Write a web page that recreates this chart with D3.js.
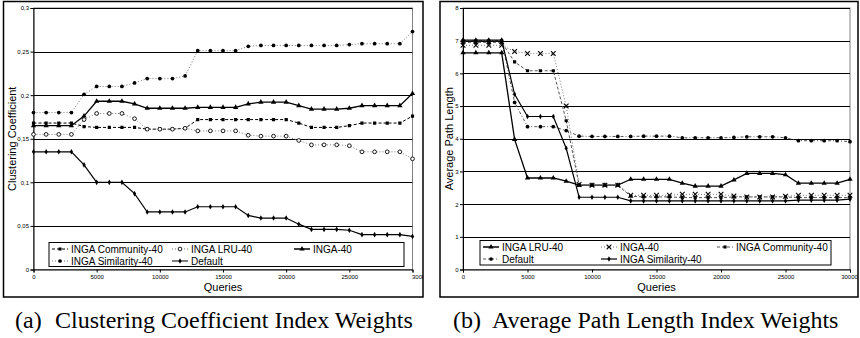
<!DOCTYPE html>
<html><head><meta charset="utf-8">
<script src="https://cdn.jsdelivr.net/npm/d3@7"></script>
<style>body{margin:0;background:#fff}svg{display:block}</style>
</head><body>
<svg id="chart" width="860" height="338"></svg>
<script>
// ---------- data ----------
const queries = [0,1000,2000,3000,4000,5000,6000,7000,8000,9000,10000,11000,12000,13000,14000,15000,
  16000,17000,18000,19000,20000,21000,22000,23000,24000,25000,26000,27000,28000,29000,30000];
const xTickValues = [0,5000,10000,15000,20000,25000,30000];
const xTickLabels = ["0","5000","10000","15000","20000","25000","30000"];

// (a) Clustering coefficient
const ccTickValues = [0,0.05,0.1,0.15,0.2,0.25,0.3];
const ccTickLabels = ["0","0,05","0,1","0,15","0,2","0,25","0,3"];
const ccCommunity = [0.168,0.168,0.168,0.168,0.164,0.163,0.163,0.163,0.163,0.161,0.161,0.161,0.162,0.172,0.172,0.172,
  0.172,0.172,0.172,0.172,0.172,0.168,0.163,0.163,0.163,0.165,0.168,0.168,0.168,0.168,0.176];
const ccLRU = [0.155,0.155,0.155,0.155,0.172,0.179,0.179,0.179,0.173,0.161,0.161,0.161,0.162,0.159,0.159,0.159,
  0.159,0.154,0.153,0.153,0.153,0.148,0.143,0.143,0.143,0.142,0.135,0.135,0.135,0.135,0.127];
const ccInga40 = [0.165,0.165,0.165,0.165,0.176,0.193,0.193,0.193,0.190,0.185,0.185,0.185,0.185,0.186,0.186,0.186,
  0.186,0.190,0.192,0.192,0.192,0.188,0.184,0.184,0.184,0.185,0.188,0.188,0.188,0.188,0.202];
const ccSimilarity = [0.180,0.180,0.180,0.180,0.201,0.210,0.210,0.210,0.214,0.219,0.219,0.219,0.222,0.251,0.251,0.251,
  0.251,0.256,0.257,0.257,0.257,0.257,0.257,0.257,0.257,0.258,0.259,0.259,0.259,0.259,0.273];
const ccDefault = [0.135,0.135,0.135,0.135,0.120,0.100,0.100,0.100,0.087,0.066,0.066,0.066,0.066,0.072,0.072,0.072,
  0.072,0.062,0.059,0.059,0.059,0.052,0.046,0.046,0.046,0.045,0.040,0.040,0.040,0.040,0.038];

// (b) Average path length
const aplTickValues = [0,1,2,3,4,5,6,7,8];
const aplTickLabels = ["0","1","2","3","4","5","6","7","8"];
const aplLRU = [6.63,6.63,6.63,6.63,3.98,2.80,2.80,2.80,2.70,2.58,2.58,2.58,2.58,2.76,2.76,2.76,
  2.76,2.64,2.55,2.55,2.55,2.74,2.94,2.94,2.94,2.90,2.64,2.64,2.64,2.64,2.76];
const aplInga40 = [6.86,6.86,6.86,6.86,6.67,6.61,6.61,6.61,5.00,2.60,2.58,2.58,2.58,2.27,2.27,2.27,
  2.27,2.30,2.30,2.30,2.30,2.25,2.22,2.22,2.22,2.24,2.27,2.27,2.27,2.27,2.27];
const aplCommunity = [6.95,6.95,6.95,6.95,6.35,6.08,6.08,6.08,4.55,2.58,2.58,2.58,2.58,2.24,2.22,2.22,
  2.22,2.20,2.20,2.20,2.20,2.22,2.22,2.22,2.22,2.22,2.20,2.20,2.20,2.20,2.20];
const aplDefault = [7.00,7.00,7.00,7.00,5.11,4.37,4.37,4.37,4.25,4.08,4.07,4.07,4.07,4.07,4.08,4.08,
  4.08,4.03,4.03,4.03,4.03,4.04,4.06,4.06,4.06,4.03,3.94,3.94,3.94,3.94,3.91];
const aplSimilarity = [7.02,7.02,7.02,7.02,5.36,4.68,4.68,4.68,3.71,2.21,2.21,2.21,2.21,2.10,2.10,2.10,
  2.10,2.10,2.10,2.10,2.10,2.10,2.10,2.10,2.10,2.10,2.12,2.12,2.12,2.12,2.15];

// ---------- drawing ----------
const svg = d3.select("#chart");
const SANS = "'Liberation Sans', Arial, sans-serif";
const SERIF = "'Liberation Serif', 'Times New Roman', serif";

const panels = [
  {
    id: "a",
    frame: {x: 3.5, y: 1.5, w: 419.5, h: 295.5},
    plot: {x0: 33.5, x1: 412.5, y0: 8, y1: 269.5},
    yDomain: [0, 0.3], yTicks: ccTickValues, yTickLabels: ccTickLabels,
    yTitle: "Clustering Coefficient", yTitleX: 16,
    lastLabelAnchor: "start", lastLabelDx: -1,
    legend: {x: 49, y: 242.5, w: 355, h: 24, rows: [249, 261], cols: [52, 172, 294]},
    series: [
      {name: "INGA Community-40", values: ccCommunity, stroke: "#000", dash: "3,2", width: 1, sym: "square", col: 0, row: 0},
      {name: "INGA LRU-40", values: ccLRU, stroke: "#777", dash: "1,2", width: 1, sym: "ocircle", col: 1, row: 0},
      {name: "INGA-40", values: ccInga40, stroke: "#000", dash: null, width: 1.3, sym: "triangle", col: 2, row: 0},
      {name: "INGA Similarity-40", values: ccSimilarity, stroke: "#777", dash: "1,2", width: 1, sym: "circle", col: 0, row: 1},
      {name: "Default", values: ccDefault, stroke: "#000", dash: null, width: 1.2, sym: "diamond", col: 1, row: 1}
    ],
    caption: ["(a)", "Clustering Coefficient Index Weights"], capX: [15, 55]
  },
  {
    id: "b",
    frame: {x: 440, y: 1.5, w: 418, h: 295.5},
    plot: {x0: 463, x1: 850, y0: 8, y1: 269.5},
    yDomain: [0, 8], yTicks: aplTickValues, yTickLabels: aplTickLabels,
    yTitle: "Average Path Length", yTitleX: 453,
    lastLabelAnchor: "middle", lastLabelDx: -1,
    legend: {x: 480, y: 240.5, w: 351, h: 24.5, rows: [247, 259], cols: [483, 601, 717]},
    series: [
      {name: "INGA LRU-40", values: aplLRU, stroke: "#000", dash: null, width: 1.3, sym: "triangle", col: 0, row: 0},
      {name: "INGA-40", values: aplInga40, stroke: "#777", dash: "1,2", width: 1, sym: "times", col: 1, row: 0},
      {name: "INGA Community-40", values: aplCommunity, stroke: "#555", dash: "3,2", width: 1, sym: "square", col: 2, row: 0},
      {name: "Default", values: aplDefault, stroke: "#555", dash: "3,2,1,2", width: 1, sym: "circle", col: 0, row: 1},
      {name: "INGA Similarity-40", values: aplSimilarity, stroke: "#000", dash: null, width: 1.2, sym: "diamond", col: 1, row: 1}
    ],
    caption: ["(b)", "Average Path Length Index Weights"], capX: [453, 492]
  }
];

function drawMarker(g, sym, x, y) {
  const types = {
    square: [d3.symbolSquare, 10], ocircle: [d3.symbolCircle, 11], circle: [d3.symbolCircle, 11],
    triangle: [d3.symbolTriangle, 12], diamond: [d3.symbolDiamond, 9], times: [d3.symbolTimes, 16]
  };
  const [type, size] = types[sym];
  const p = g.append("path")
    .attr("d", d3.symbol().type(type).size(size)())
    .attr("transform", `translate(${x},${y})`);
  if (sym === "ocircle") p.attr("fill", "#fff").attr("stroke", "#000").attr("stroke-width", 0.9);
  else if (sym === "times") p.attr("fill", "none").attr("stroke", "#000").attr("stroke-width", 1.1);
  else p.attr("fill", "#000");
}

panels.forEach(P => {
  const clipId = "clip-" + P.id;
  svg.append("clipPath").attr("id", clipId).append("rect")
    .attr("x", P.frame.x).attr("y", P.frame.y).attr("width", P.frame.w).attr("height", P.frame.h);
  const g = svg.append("g").attr("clip-path", `url(#${clipId})`);

  const x = d3.scaleLinear().domain([0, 30000]).range([P.plot.x0, P.plot.x1]);
  const y = d3.scaleLinear().domain(P.yDomain).range([P.plot.y1, P.plot.y0]);

  // plot area
  g.append("rect").attr("x", P.plot.x0).attr("y", P.plot.y0)
    .attr("width", P.plot.x1 - P.plot.x0).attr("height", P.plot.y1 - P.plot.y0)
    .attr("fill", "#fff").attr("stroke", "#808080").attr("stroke-width", 1);

  // gridlines
  g.append("g").selectAll("line").data(P.yTicks.slice(1)).join("line")
    .attr("x1", P.plot.x0).attr("x2", P.plot.x1)
    .attr("y1", d => Math.round(y(d)) + 0.5).attr("y2", d => Math.round(y(d)) + 0.5)
    .attr("stroke", "#000").attr("stroke-width", 1);

  // y axis
  const yAxis = d3.axisLeft(y).tickValues(P.yTicks)
    .tickFormat((d, i) => P.yTickLabels[i]).tickSize(3).tickPadding(1.5);
  const ya = g.append("g").attr("transform", `translate(${P.plot.x0},0)`).call(yAxis);
  ya.selectAll("text").attr("font-family", SANS).attr("font-size", 6).attr("fill", "#000");
  ya.select(".domain").attr("stroke", "#000");

  // x axis
  const xAxis = d3.axisBottom(x).tickValues(xTickValues)
    .tickFormat((d, i) => xTickLabels[i]).tickSize(3).tickPadding(2.5);
  const xa = g.append("g").attr("transform", `translate(0,${P.plot.y1})`).call(xAxis);
  xa.selectAll("text").attr("font-family", SANS).attr("font-size", 6).attr("fill", "#000");
  xa.selectAll(".tick").filter(d => d === 30000).select("text")
    .attr("text-anchor", P.lastLabelAnchor).attr("dx", P.lastLabelDx);
  xa.select(".domain").attr("stroke", "#000");

  // series lines
  const line = d3.line().x((d, i) => x(queries[i])).y(d => y(d));
  P.series.forEach(s => {
    g.append("path").datum(s.values).attr("d", line)
      .attr("fill", "none").attr("stroke", s.stroke).attr("stroke-width", s.width)
      .attr("stroke-dasharray", s.dash);
  });
  P.series.forEach(s => {
    const mg = g.append("g");
    s.values.forEach((v, i) => drawMarker(mg, s.sym, x(queries[i]), y(v)));
  });

  // titles
  g.append("text").attr("transform", `translate(${P.yTitleX},${(P.plot.y0 + P.plot.y1) / 2}) rotate(-90)`)
    .attr("text-anchor", "middle").attr("font-family", SANS).attr("font-size", 11).text(P.yTitle);
  g.append("text").attr("x", (P.plot.x0 + P.plot.x1) / 2).attr("y", 291)
    .attr("text-anchor", "middle").attr("font-family", SANS).attr("font-size", 11).text("Queries");

  // legend
  const L = P.legend;
  const lg = g.append("g");
  lg.append("rect").attr("x", L.x).attr("y", L.y).attr("width", L.w).attr("height", L.h)
    .attr("fill", "#fff").attr("stroke", "#000").attr("stroke-width", 1);
  P.series.forEach(s => {
    const sx = L.cols[s.col], sy = L.rows[s.row];
    lg.append("line").attr("x1", sx).attr("x2", sx + 16).attr("y1", sy).attr("y2", sy)
      .attr("stroke", s.stroke).attr("stroke-width", s.width).attr("stroke-dasharray", s.dash);
    drawMarker(lg, s.sym, sx + 8, sy);
    lg.append("text").attr("x", sx + 19).attr("y", sy + 3.5)
      .attr("font-family", SANS).attr("font-size", 10).text(s.name);
  });

  // frame
  svg.append("rect").attr("x", P.frame.x).attr("y", P.frame.y).attr("width", P.frame.w).attr("height", P.frame.h)
    .attr("fill", "none").attr("stroke", "#000").attr("stroke-width", 1.5);

  // caption
  svg.append("text").attr("x", P.capX[0]).attr("y", 328).attr("font-family", SERIF).attr("font-size", 24).text(P.caption[0]);
  svg.append("text").attr("x", P.capX[1]).attr("y", 328).attr("font-family", SERIF).attr("font-size", 24).text(P.caption[1]);
});
</script>
</body></html>
